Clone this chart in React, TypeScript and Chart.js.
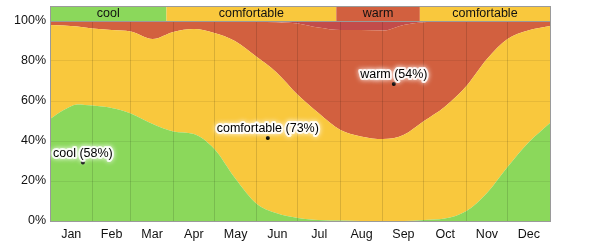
import React, { useEffect, useRef } from 'react';
import { Chart, registerables } from 'chart.js';

Chart.register(...registerables);

// day of year for each sample
const days = [0, 10, 20, 31, 45, 59, 75, 90, 105, 120, 135, 151, 165, 181, 196, 212, 227, 243, 258, 273, 288, 304, 319, 334, 349, 365];
const cool = [51, 55.5, 58.3, 57.7, 56.5, 53.8, 48.5, 44.8, 43.5, 36, 21.5, 8.5, 4, 1.5, 0.5, 0.2, 0, 0, 0, 0.5, 1.2, 5, 14, 27, 39, 49];
const comfortable = [47, 42.3, 39, 38.6, 39, 40.9, 42.5, 49.7, 52.5, 58, 68.5, 73.5, 70.5, 61.5, 53.5, 45.3, 42.3, 41, 43, 49.5, 55.8, 62.5, 67, 64, 56.3, 48.5];
const warm = [2, 2.2, 2.7, 3.7, 4.5, 5.3, 9, 5.5, 4, 6, 9.8, 17.6, 24.9, 35.8, 42.7, 50, 53.2, 54.2, 55, 49.4, 42.7, 32.3, 19, 9, 4.7, 2.5];
const hot = [0, 0, 0, 0, 0, 0, 0, 0, 0, 0, 0.2, 0.4, 0.6, 1.2, 3.3, 4.5, 4.5, 4.8, 2, 0.6, 0.3, 0.2, 0, 0, 0, 0];

const monthNames = ['Jan', 'Feb', 'Mar', 'Apr', 'May', 'Jun', 'Jul', 'Aug', 'Sep', 'Oct', 'Nov', 'Dec'];
const monthStarts = [0, 31, 59, 90, 120, 151, 181, 212, 243, 273, 304, 334, 365];
const yTicks = [0, 20, 40, 60, 80, 100];

// season band across the top
const bandLabels = ['cool', 'comfortable', 'warm', 'comfortable'];
const bandFrom = [0, 85, 209, 270];
const bandTo = [85, 209, 270, 365];
const bandKinds = ['cool', 'comfortable', 'warm', 'comfortable'];

// annotated points
const noteNames = ['cool', 'comfortable', 'warm'];
const noteDays = [24, 159, 251];
const notePercents = [58, 73, 54];
const noteYs = [29.2, 41.5, 68.5];

const COLORS: Record<string, string> = {
  cool: '#8BD85B',
  comfortable: '#F9C83D',
  warm: '#D2603F',
  hot: '#C24C4A',
};

const FONT = '12.5px "Liberation Sans", Arial, sans-serif';

const mk = (arr: number[]) => arr.map((v, i) => ({ x: days[i], y: v }));

export default function App() {
  const ref = useRef<HTMLCanvasElement | null>(null);

  useEffect(() => {
    if (!ref.current) return;

    const overlay = {
      id: 'overlay',
      afterDraw(chart: any) {
        const { ctx, chartArea } = chart;
        const xs = chart.scales.x;
        const ys = chart.scales.y;
        ctx.save();
        // band
        const bTop = chartArea.top - 15;
        for (let i = 0; i < bandLabels.length; i++) {
          const x0 = xs.getPixelForValue(bandFrom[i]);
          const x1 = xs.getPixelForValue(bandTo[i]);
          ctx.fillStyle = COLORS[bandKinds[i]];
          ctx.fillRect(x0, bTop, x1 - x0, chartArea.top - bTop);
          ctx.fillStyle = '#111';
          ctx.font = FONT;
          ctx.textAlign = 'center';
          ctx.textBaseline = 'middle';
          ctx.fillText(bandLabels[i], (x0 + x1) / 2, (bTop + chartArea.top) / 2 + 0.5);
        }
        // borders
        ctx.strokeStyle = '#9a9a9a';
        ctx.lineWidth = 1;
        ctx.strokeRect(chartArea.left + 0.5, bTop + 0.5, chartArea.right - chartArea.left, chartArea.bottom - bTop);
        ctx.beginPath();
        ctx.moveTo(chartArea.left, chartArea.top + 0.5);
        ctx.lineTo(chartArea.right, chartArea.top + 0.5);
        ctx.stroke();
        // notes
        ctx.font = FONT;
        ctx.textAlign = 'center';
        ctx.textBaseline = 'middle';
        for (let i = 0; i < noteNames.length; i++) {
          const px = xs.getPixelForValue(noteDays[i]);
          const py = ys.getPixelForValue(noteYs[i]);
          ctx.fillStyle = '#000';
          ctx.beginPath();
          ctx.arc(px, py, 2, 0, Math.PI * 2);
          ctx.fill();
          const text = `${noteNames[i]} (${notePercents[i]}%)`;
          const ty = py - 9;
          ctx.save();
          ctx.shadowColor = 'rgba(255,255,255,1)';
          ctx.shadowBlur = 5;
          ctx.lineJoin = 'round';
          ctx.strokeStyle = 'rgba(255,255,255,0.85)';
          ctx.lineWidth = 4;
          ctx.strokeText(text, px, ty);
          ctx.restore();
          ctx.fillStyle = '#000';
          ctx.fillText(text, px, ty);
        }
        ctx.restore();
      },
    };

    const ds = (label: string, data: number[], fill: any) => ({
      label,
      data: mk(data),
      backgroundColor: COLORS[label],
      borderColor: COLORS[label],
      borderWidth: 0,
      pointRadius: 0,
      fill,
      cubicInterpolationMode: 'monotone' as const,
      xAxisID: 'x',
      yAxisID: 'y',
    });

    const chart = new Chart(ref.current, {
      type: 'line',
      data: {
        datasets: [
          ds('cool', cool, 'origin'),
          ds('comfortable', comfortable, '-1'),
          ds('warm', warm, '-1'),
          ds('hot', hot, '-1'),
        ],
      },
      options: {
        responsive: false,
        animation: false,
        events: [],
        layout: { padding: { top: 21, right: 50, left: 0, bottom: 0 } },
        plugins: { legend: { display: false }, tooltip: { enabled: false } },
        scales: {
          x: {
            type: 'linear',
            min: 0,
            max: 365,
            z: 1,
            position: 'bottom',
            afterBuildTicks: (axis: any) => {
              axis.ticks = monthStarts.map((v) => ({ value: v }));
            },
            ticks: { display: false },
            grid: { color: 'rgba(0,0,0,0.13)', drawTicks: false, z: 1 },
            border: { display: false },
            afterFit: (axis: any) => {
              axis.height = 0;
            },
          },
          x2: {
            type: 'linear',
            min: 0,
            max: 365,
            position: 'bottom',
            afterBuildTicks: (axis: any) => {
              axis.ticks = monthStarts.slice(0, 12).map((v, i) => ({ value: (v + monthStarts[i + 1]) / 2 }));
            },
            ticks: {
              autoSkip: false,
              maxRotation: 0,
              padding: 6,
              color: '#111',
              font: { family: '"Liberation Sans", Arial, sans-serif', size: 12.5 },
              callback: (_v: any, i: number) => monthNames[i],
            },
            grid: { display: false, drawTicks: false },
            border: { display: false },
            afterFit: (axis: any) => {
              axis.height = 23;
            },
          },
          y: {
            type: 'linear',
            min: 0,
            max: 100,
            stacked: true,
            z: 1,
            afterBuildTicks: (axis: any) => {
              axis.ticks = yTicks.map((v) => ({ value: v }));
            },
            ticks: {
              padding: 4,
              color: '#111',
              font: { family: '"Liberation Sans", Arial, sans-serif', size: 12.5 },
              callback: (v: any) => `${v}%`,
            },
            grid: { color: 'rgba(0,0,0,0.07)', drawTicks: false, z: 1 },
            border: { display: false },
            afterFit: (axis: any) => {
              axis.width = 50;
            },
          },
        },
      },
      plugins: [overlay],
    });
    return () => chart.destroy();
  }, []);

  return (
    <div style={{ position: 'absolute', left: 0, top: 0, width: 600, height: 244, background: '#fff' }}>
      <canvas ref={ref} width={600} height={244} style={{ width: 600, height: 244 }} />
    </div>
  );
}
